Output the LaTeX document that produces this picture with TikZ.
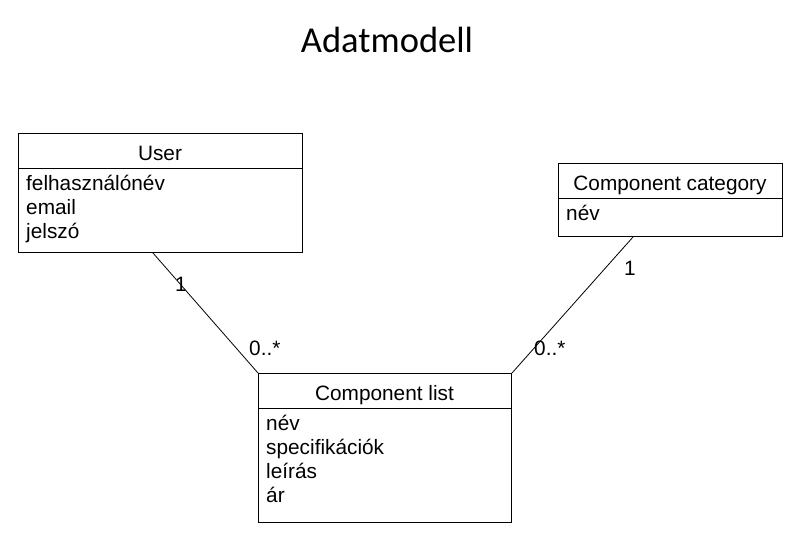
\documentclass[tikz,border=0pt]{standalone}
\usepackage{fontspec}
\setmainfont{Liberation Sans}
\newfontfamily\titlefont{Carlito}
\usetikzlibrary{calc}
\begin{document}
\begin{tikzpicture}[x=1pt,y=-1pt,
  box/.style={draw, line width=1pt, rectangle, anchor=north west, inner sep=0pt},
  txt/.style={font=\fontsize{20.8}{24}\selectfont, inner sep=0pt},
  attr/.style={txt, anchor=base west},
  hdr/.style={txt, anchor=base},
  mult/.style={txt, anchor=base west},
  conn/.style={line width=0.8pt}]
\useasboundingbox[fill=white] (0,0) rectangle (810,554);
\node[anchor=base, inner sep=0pt, font=\titlefont\fontsize{36.5}{40}\selectfont] (title) at (387,52) {Adatmodell};

% User
\node[box, minimum width=284pt, minimum height=119pt] (user) at (18,133) {};
\draw[line width=1pt] ($(user.north west)+(0,35)$) -- ($(user.north east)+(0,35)$);
\node[hdr] (userh) at (160,160) {User};
\node[attr] (u1) at (26,190) {felhasználónév};
\node[attr] (u2) at (26,214) {email};
\node[attr] (u3) at (26,238) {jelszó};

% Component category
\node[box, minimum width=224pt, minimum height=73pt] (cat) at (558,163) {};
\draw[line width=1pt] ($(cat.north west)+(0,35)$) -- ($(cat.north east)+(0,35)$);
\node[hdr] (cath) at (670,190) {Component category};
\node[attr] (c1) at (566,220) {név};

% Component list
\node[box, minimum width=253pt, minimum height=149pt] (list) at (258,373) {};
\draw[line width=1pt] ($(list.north west)+(0,35)$) -- ($(list.north east)+(0,35)$);
\node[hdr] (listh) at (384.5,400) {Component list};
\node[attr] (l1) at (266,430) {név};
\node[attr] (l2) at (266,454) {specifikációk};
\node[attr] (l3) at (266,478) {leírás};
\node[attr] (l4) at (266,502) {ár};

% connectors
\coordinate (ua) at ($(user.south west)+(135,0)$);
\coordinate (ca) at ($(cat.south west)+(75,0)$);
\draw[conn] (ua) -- (list.north west);
\draw[conn] (ca) -- (list.north east);

% multiplicities
\node[mult] (m1) at (175,291) {1};
\node[mult] (m2) at (249,355) {0..*};
\node[mult] (m3) at (624,275) {1};
\node[mult] (m4) at (534,355) {0..*};
\end{tikzpicture}
\end{document}
